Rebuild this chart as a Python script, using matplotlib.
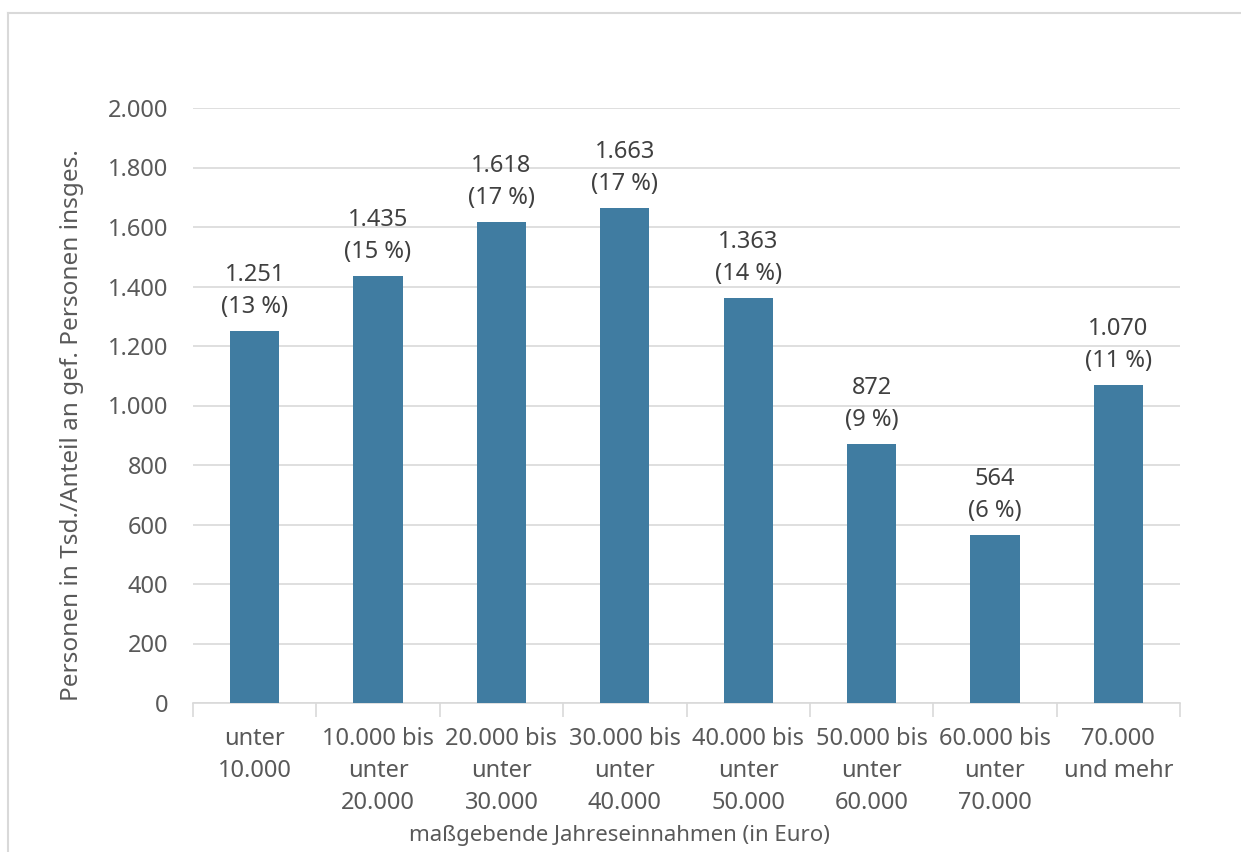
import matplotlib
matplotlib.use("Agg")
import matplotlib.pyplot as plt
from matplotlib.lines import Line2D

# Daten
kategorien = ["unter\n10.000", "10.000 bis\nunter\n20.000", "20.000 bis\nunter\n30.000",
              "30.000 bis\nunter\n40.000", "40.000 bis\nunter\n50.000", "50.000 bis\nunter\n60.000",
              "60.000 bis\nunter\n70.000", "70.000\nund mehr"]
werte = [1251, 1435, 1618, 1663, 1363, 872, 564, 1070]
anteile = [13, 15, 17, 17, 14, 9, 6, 11]

plt.rcParams['font.family'] = ['Noto Sans', 'DejaVu Sans']
grau = '#595959'

fig = plt.figure(figsize=(12.41, 8.52), dpi=100)
ax = fig.add_axes([193/1241, 1-703/852, (1180-193)/1241, (703-108)/852])

x = range(len(werte))
ax.bar(x, werte, width=0.4, color='#407CA1', zorder=3)

for i, (w, a) in enumerate(zip(werte, anteile)):
    ax.text(i, w + 40, "{:,}".format(w).replace(",", ".") + "\n(" + str(a) + " %)",
            ha='center', va='bottom', fontsize=17, color='#404040', linespacing=1.45)

ax.set_xlim(-0.5, len(werte) - 0.5)
ax.set_ylim(0, 2000)
ax.set_yticks(range(0, 2001, 200))
ax.set_yticklabels(["{:,}".format(v).replace(",", ".") for v in range(0, 2001, 200)])
ax.grid(axis='y', color='#D9D9D9', linewidth=1.2, zorder=0)

ax.set_xticks([i - 0.5 for i in range(len(werte) + 1)], minor=False)
ax.set_xticklabels([])
ax.set_xticks(list(x), minor=True)
ax.set_xticklabels(kategorien, minor=True, linespacing=1.45)
ax.tick_params(axis='x', which='major', length=10, color='#D9D9D9', width=1.2)
ax.tick_params(axis='x', which='minor', length=0, pad=17, labelsize=17, labelcolor=grau)
ax.tick_params(axis='y', length=0, pad=18, labelsize=17, labelcolor=grau)

for s in ['top', 'right', 'left']:
    ax.spines[s].set_visible(False)
ax.spines['bottom'].set_color('#D9D9D9')
ax.spines['bottom'].set_linewidth(1.2)

fig.text(72/1241, 1-425/852, "Personen in Tsd./Anteil an gef. Personen insges.",
         rotation=90, ha='center', va='center', fontsize=17.5, color=grau)
fig.text(619/1241, 1-835/852, "maßgebende Jahreseinnahmen (in Euro)",
         ha='center', va='center', fontsize=16, color=grau)

# Rahmen
fig.add_artist(Line2D([8/1241, 8/1241], [0, 1-13/852], transform=fig.transFigure, color='#D9D9D9', lw=1.5))
fig.add_artist(Line2D([8/1241, 1], [1-13/852, 1-13/852], transform=fig.transFigure, color='#D9D9D9', lw=1.5))

fig.savefig("out.png", dpi=100)
